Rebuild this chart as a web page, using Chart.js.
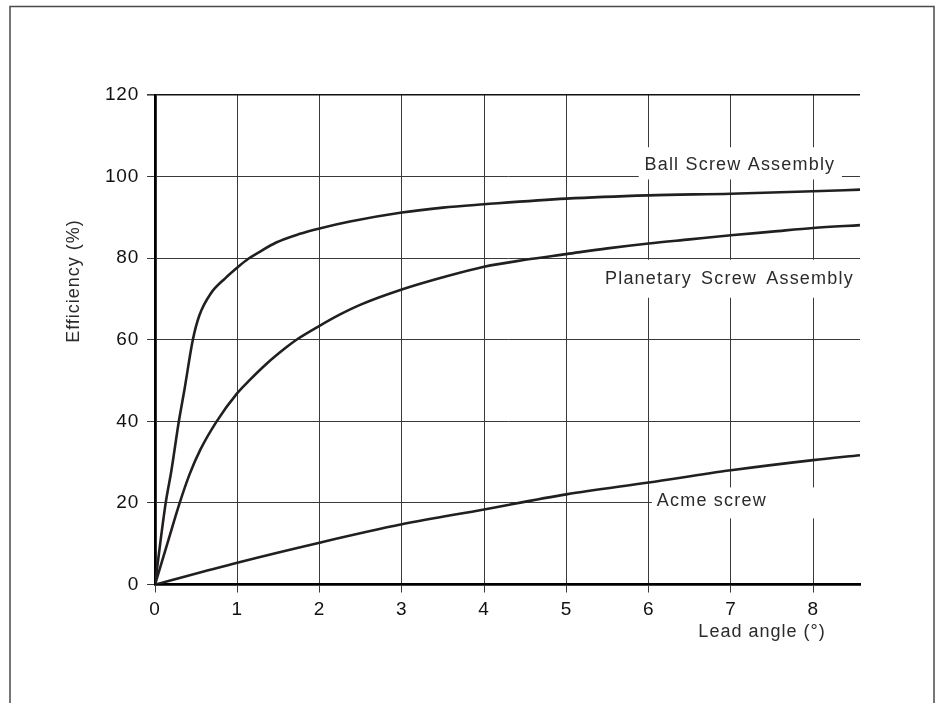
<!DOCTYPE html>
<html>
<head>
<meta charset="utf-8">
<script src="https://cdn.jsdelivr.net/npm/chart.js@4.4.0/dist/chart.umd.min.js"></script>
<style>
  html, body { margin: 0; padding: 0; background: #fff; }
  #wrap { width: 944px; height: 703px; position: relative; }
</style>
</head>
<body>
<div id="wrap"><canvas id="c" width="944" height="703"></canvas></div>
<script>
// ---- data ----
const xTickLabels = ['0', '1', '2', '3', '4', '5', '6', '7', '8'];
const yTickLabels = ['0', '20', '40', '60', '80', '100', '120'];

const ballX = [0, 0.13, 0.2, 0.29, 0.36, 0.46, 0.54, 0.68, 0.85, 1.03, 1.13, 1.25, 1.48, 1.75, 2, 2.37, 3, 3.5, 4, 5, 6, 7, 8, 8.57];
const ballY = [0, 20, 28, 40, 48, 60, 66, 71.4, 75, 78.2, 79.8, 81.3, 83.9, 85.9, 87.3, 89, 91.2, 92.4, 93.2, 94.6, 95.4, 95.8, 96.4, 96.8];

const planX = [0, 0.15, 0.3, 0.42, 0.55, 0.75, 1, 1.15, 1.35, 1.6, 1.72, 2, 2.25, 2.5, 3, 3.5, 4, 4.5, 5, 5.5, 6, 6.5, 7, 7.5, 8, 8.57];
const planY = [0, 10, 20, 27, 33, 40, 46.9, 50.1, 54, 58.2, 60, 63.4, 66.2, 68.6, 72.3, 75.3, 77.9, 79.6, 81, 82.4, 83.6, 84.6, 85.6, 86.5, 87.4, 88.1];

const acmeX = [0, 1, 2, 3, 4, 5, 6, 7, 8, 8.57];
const acmeY = [0, 5.35, 10.25, 14.75, 18.4, 22.1, 25, 28, 30.5, 31.7];

const curveNames = ['Ball Screw Assembly', 'Planetary Screw Assembly', 'Acme screw'];
const xTitle = 'Lead angle (°)';
const yTitle = 'Efficiency (%)';

const X_MAX = 8.57;

function pts(xs, ys) { return xs.map((x, i) => ({ x: x, y: ys[i] })); }

const FONT = '"Liberation Sans", Arial, Helvetica, sans-serif';
const LINE = '#231f20';

const lineDs = (label, xs, ys) => ({
  label: label,
  data: pts(xs, ys),
  showLine: true,
  borderColor: LINE,
  borderWidth: 2.6,
  pointRadius: 0,
  cubicInterpolationMode: 'monotone',
  fill: false
});

// label boxes (data units) that mask the grid, and their text
const callouts = [
  { text: curveNames[0], box: [5.88, 8.35, 99.3, 107.2], tx: 5.95, ty: 102.8, ws: '0px' },
  { text: curveNames[1], box: [5.35, 8.57, 70.3, 79.6], tx: 5.47, ty: 75.0, ws: '3px' },
  { text: curveNames[2], box: [6.04, 8.57, 16.2, 23.8], tx: 6.1, ty: 20.4, ws: '0px' }
];

const framePlugin = {
  id: 'frame',
  beforeDraw(chart) {
    const ctx = chart.ctx;
    ctx.save();
    ctx.fillStyle = '#fff';
    ctx.fillRect(0, 0, chart.width, chart.height);
    ctx.strokeStyle = '#4a4a4a';
    ctx.lineWidth = 1.5;
    ctx.strokeRect(10, 6.5, 924, 760);
    ctx.restore();
    // slightly wider tick lettering, as in the reference
    ctx.letterSpacing = '0.8px';
  }
};

const calloutPlugin = {
  id: 'callouts',
  beforeDatasetsDraw(chart) {
    const ctx = chart.ctx, xs = chart.scales.x, ys = chart.scales.y;
    ctx.letterSpacing = '0px';
    ctx.save();
    callouts.forEach(c => {
      const x0 = xs.getPixelForValue(c.box[0]), x1 = xs.getPixelForValue(c.box[1]);
      const y0 = ys.getPixelForValue(c.box[3]), y1 = ys.getPixelForValue(c.box[2]);
      ctx.fillStyle = '#fff';
      ctx.fillRect(x0, y0, x1 - x0, y1 - y0);
      ctx.fillStyle = '#2b2b2b';
      ctx.font = '18px ' + FONT;
      ctx.letterSpacing = '1.2px';
      ctx.wordSpacing = c.ws;
      ctx.textAlign = 'left';
      ctx.textBaseline = 'middle';
      ctx.fillText(c.text, xs.getPixelForValue(c.tx), ys.getPixelForValue(c.ty));
      ctx.wordSpacing = '0px';
    });
    ctx.restore();
  },
  afterDraw(chart) {
    const ctx = chart.ctx, a = chart.chartArea;
    ctx.save();
    ctx.fillStyle = '#2b2b2b';
    ctx.font = '18px ' + FONT;
    ctx.letterSpacing = '1px';
    ctx.textBaseline = 'middle';
    ctx.textAlign = 'center';
    // x title
    ctx.fillText(xTitle, a.left + 0.861 * (a.right - a.left), 632);
    // y title
    ctx.translate(74, a.top + 0.38 * (a.bottom - a.top));
    ctx.rotate(-Math.PI / 2);
    ctx.fillText(yTitle, 0, 0);
    ctx.restore();
    ctx.letterSpacing = '0px';
  }
};

new Chart(document.getElementById('c'), {
  type: 'scatter',
  data: {
    datasets: [
      lineDs(curveNames[0], ballX, ballY),
      lineDs(curveNames[1], planX, planY),
      lineDs(curveNames[2], acmeX, acmeY)
    ]
  },
  options: {
    responsive: false,
    animation: false,
    devicePixelRatio: 1,
    layout: { padding: { left: 0, top: 95, right: 84, bottom: 0 } },
    plugins: { legend: { display: false }, tooltip: { enabled: false } },
    scales: {
      x: {
        type: 'linear',
        min: 0,
        max: X_MAX,
        afterFit(s) { s.height = 118.5; },
        ticks: {
          stepSize: 1,
          includeBounds: false,
          padding: 6,
          color: '#111',
          font: { family: FONT, size: 19 },
          callback: (v) => xTickLabels[Math.round(v)] ?? ''
        },
        grid: { color: '#3a3a3a', lineWidth: 1, tickLength: 8, tickColor: '#3a3a3a' },
        border: { display: true, color: '#000', width: 2.8 }
      },
      y: {
        type: 'linear',
        min: 0,
        max: 120,
        afterFit(s) { s.width = 155; },
        ticks: {
          stepSize: 20,
          padding: 8,
          color: '#111',
          font: { family: FONT, size: 19 },
          callback: (v) => yTickLabels[Math.round(v / 20)] ?? ''
        },
        grid: {
          color: (c) => (c.tick && c.tick.value === 120) ? '#111' : '#3a3a3a',
          lineWidth: (c) => (c.tick && c.tick.value === 120) ? 1.6 : 1,
          tickLength: 8,
          tickColor: '#3a3a3a'
        },
        border: { display: true, color: '#000', width: 2.8 }
      }
    }
  },
  plugins: [framePlugin, calloutPlugin]
});
</script>
</body>
</html>
